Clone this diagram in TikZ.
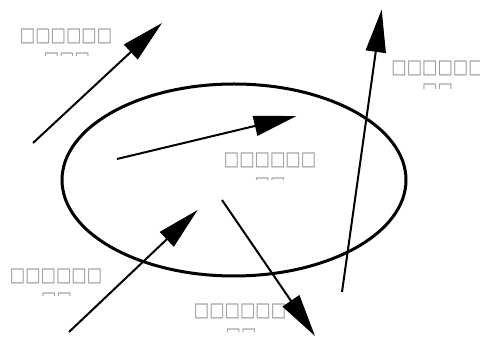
\documentclass[tikz,border=0pt]{standalone}
\usepackage{fontspec}
\newfontfamily\boxfont{DejaVu Sans}
\usetikzlibrary{arrows.meta}
\definecolor{labelgray}{RGB}{150,150,150}
\newcommand{\tallbox}[1]{\scalebox{1}[1.2]{#1}}
\tikzset{
  lbl/.style={inner sep=0pt, anchor=base, text=labelgray, font=\boxfont\fontsize{12.2pt}{15pt}\selectfont},
  arr/.style={line width=1.5pt, -{Triangle[length=32pt,width=15pt]}},
  ring/.style={line width=2.25pt}
}
\begin{document}
\begin{tikzpicture}[x=0.75pt,y=-0.75pt]
\useasboundingbox (0,0) rectangle (480,338);
\fill[white] (0,0) rectangle (480,338);
% labels (second lines clipped)
\begin{scope}\clip (0,20) rectangle (140,56);
\node[lbl] (l1a) at (66,41.5) {\tallbox{□□□□□□}};
\node[lbl] (l1b) at (67,66) {\tallbox{□□□}};
\end{scope}
\begin{scope}\clip (380,50) rectangle (480,88.3);
\node[lbl] (l2a) at (437.5,73.5) {\tallbox{□□□□□□}};
\node[lbl] (l2b) at (437.5,97) {\tallbox{□□}};
\end{scope}
\begin{scope}\clip (210,140) rectangle (330,180);
\node[lbl] (l3a) at (270,166) {\tallbox{□□□□□□}};
\node[lbl] (l3b) at (270,191) {\tallbox{□□}};
\end{scope}
\begin{scope}\clip (0,260) rectangle (120,295.7);
\node[lbl] (l4a) at (56,281.5) {\tallbox{□□□□□□}};
\node[lbl] (l4b) at (56.5,305.5) {\tallbox{□□}};
\end{scope}
\begin{scope}\clip (180,295) rectangle (300,332);
\node[lbl] (l5a) at (240,316.5) {\tallbox{□□□□□□}};
\node[lbl] (l5b) at (241,342) {\tallbox{□□}};
\end{scope}
% ellipse
\coordinate (ringc) at (234,180);
\draw[ring] (ringc) ellipse [x radius=172, y radius=96];
% arrows
\coordinate (a1s) at (33,143);   \coordinate (a1e) at (162,23);
\coordinate (a2s) at (117,159);  \coordinate (a2e) at (296.5,116);
\coordinate (a3s) at (342,292);  \coordinate (a3e) at (381.7,9.5);
\coordinate (a4s) at (69,332);   \coordinate (a4e) at (197.7,210);
\coordinate (a5s) at (222,200);  \coordinate (a5e) at (315,336);
\draw[arr] (a1s) -- (a1e);
\draw[arr] (a2s) -- (a2e);
\draw[arr] (a3s) -- (a3e);
\draw[arr] (a4s) -- (a4e);
\draw[arr] (a5s) -- (a5e);
\end{tikzpicture}
\end{document}
